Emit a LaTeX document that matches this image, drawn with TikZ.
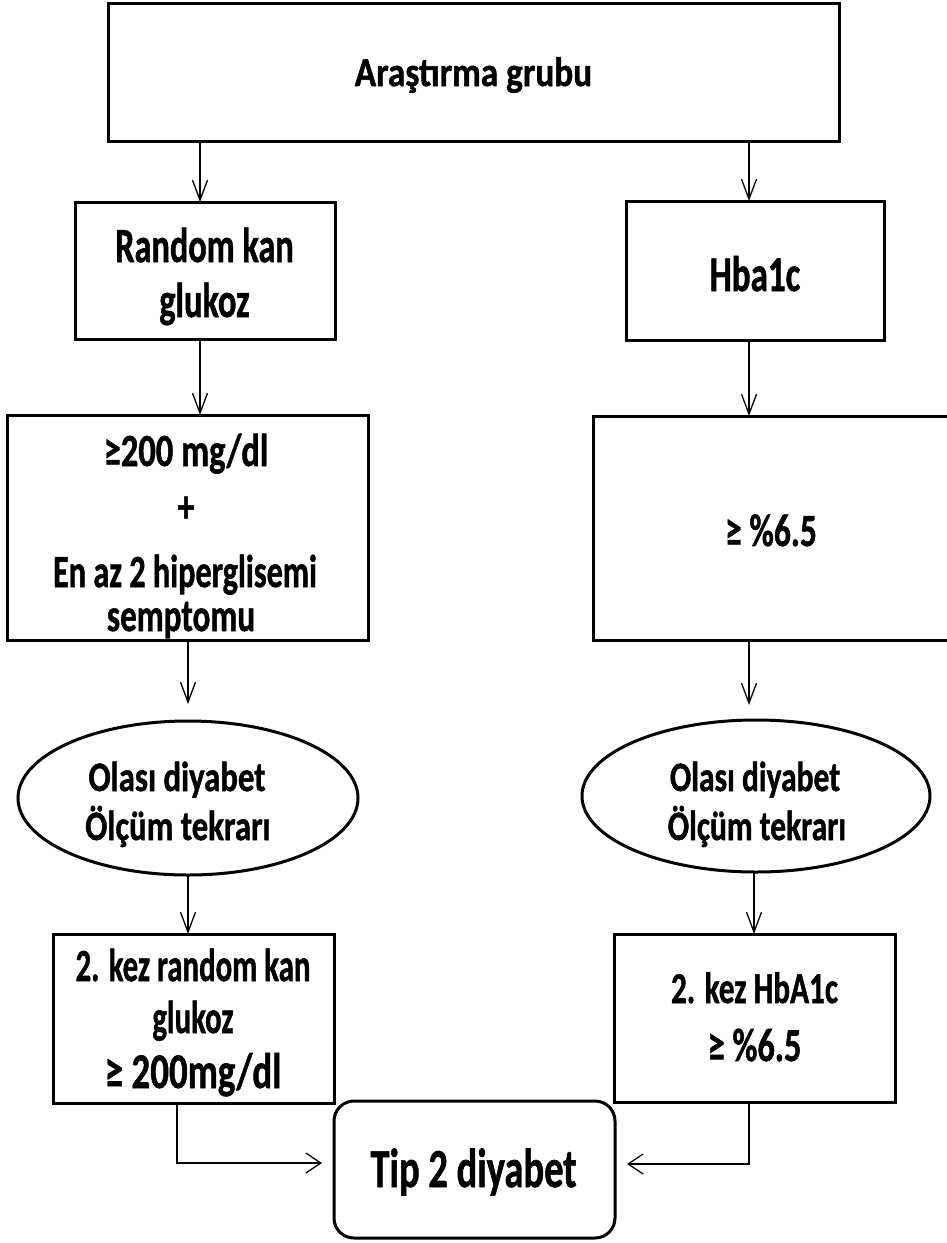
\documentclass[tikz,border=0pt]{standalone}
\usepackage{fontspec}
\setmainfont{Carlito}[BoldFeatures={FakeBold=1.2}]
\usepackage{graphicx}
\usetikzlibrary{shapes.geometric,arrows.meta}
\newcommand{\tx}[3]{\scalebox{#2}[1]{\fontsize{#1pt}{#1pt}\selectfont\bfseries #3}}
\begin{document}
\begin{tikzpicture}[x=1pt,y=-1pt,
  boxs/.style={draw, line width=3pt, rectangle, inner sep=0pt, outer sep=0pt},
  ells/.style={draw, line width=3pt, ellipse, inner sep=0pt, outer sep=0pt},
  txt/.style={inner sep=0pt, outer sep=0pt, anchor=base},
  varr/.style={line width=1.3pt, -{Straight Barb[length=20pt,width=15pt]}},
  harr/.style={line width=1.3pt, -{Straight Barb[length=15pt,width=20pt]}}]
\fill[white] (0,0) rectangle (946,1243);
\useasboundingbox (0,0) rectangle (946,1243);

% boxes
\node[boxs, minimum width=731pt, minimum height=138pt] (top) at (473.5,72) {};
\node[boxs, minimum width=260pt, minimum height=137pt] (rk) at (205,270.5) {};
\node[boxs, minimum width=258pt, minimum height=139pt] (hb) at (755,270.5) {};
\node[boxs, minimum width=361pt, minimum height=225pt] (lb) at (187.5,527.5) {};
\node[boxs, minimum width=367pt, minimum height=224pt] (rb) at (776.5,528) {};
\node[ells, minimum width=340pt, minimum height=154pt] (le) at (188,798) {};
\node[ells, minimum width=348pt, minimum height=152pt] (re) at (756,796) {};
\node[boxs, minimum width=281pt, minimum height=169pt] (l2) at (193.5,1018.5) {};
\node[boxs, minimum width=281pt, minimum height=168pt] (r2) at (754.5,1018) {};
\node[boxs, rounded corners=20pt, minimum width=281pt, minimum height=137pt] (tip) at (474.5,1169.5) {};

% texts
\node[txt] (t1) at (473.5,86) {\tx{41}{0.86}{Araştırma grubu}};
\node[txt] (t2a) at (204.5,262) {\tx{49}{0.70}{Random kan}};
\node[txt] (t2b) at (204.5,317) {\tx{49}{0.70}{glukoz}};
\node[txt] (t3) at (755,291) {\tx{50}{0.70}{Hba1c}};
\node[txt] (t4a) at (186,466) {\tx{46}{0.75}{≥200 mg/dl}};
\node[txt] (t4b) at (186,522) {\tx{46}{0.72}{+}};
\node[txt] (t4c) at (185,587) {\tx{46}{0.70}{En az 2 hiperglisemi}};
\node[txt] (t4d) at (181,631) {\tx{46}{0.72}{semptomu}};
\node[txt] (t5) at (771,546) {\tx{46}{0.73}{≥ \%6.5}};
\node[txt] (t6a) at (177,791) {\tx{42}{0.78}{Olası diyabet}};
\node[txt] (t6b) at (178,840) {\tx{42}{0.78}{Ölçüm tekrarı}};
\node[txt] (t7a) at (755,791) {\tx{42}{0.75}{Olası diyabet}};
\node[txt] (t7b) at (757,840) {\tx{42}{0.75}{Ölçüm tekrarı}};
\node[txt] (t8a) at (193,981) {\tx{46}{0.67}{2. kez random kan}};
\node[txt] (t8b) at (193,1033) {\tx{46}{0.67}{glukoz}};
\node[txt] (t8c) at (193,1088) {\tx{50}{0.74}{≥ 200mg/dl}};
\node[txt] (t9a) at (754.5,1003) {\tx{44}{0.71}{2. kez HbA1c}};
\node[txt] (t9b) at (754.5,1061) {\tx{47}{0.73}{≥ \%6.5}};
\node[txt] (t10) at (473.5,1187) {\tx{55}{0.70}{Tip 2 diyabet}};

% connectors
\draw[varr] ([xshift=-5pt]rk.north |- top.south) -- ([xshift=-5pt]rk.north);
\draw[varr] ([xshift=-6pt]hb.north |- top.south) -- ([xshift=-6pt]hb.north);
\draw[varr] ([xshift=-5pt]rk.south) -- ([xshift=-5pt]rk.south |- lb.north);
\draw[varr] ([xshift=-6pt]hb.south) -- ([xshift=-6pt]hb.south |- rb.north);
\draw[varr, shorten >=17pt] (lb.south -| le.north) -- (le.north);
\draw[varr, shorten >=15pt] (rb.south -| 749,0) -- (re.north -| 749,0);
\draw[varr] (le.south) -- (le.south |- l2.north);
\draw[varr] ([xshift=-2pt]re.south) -- ([xshift=-2pt]re.south |- r2.north);
\draw[harr, shorten >=12pt] ([xshift=-16.5pt]l2.south) |- (tip.west |- 0,1163);
\draw[harr, shorten >=12pt] ([xshift=-5.5pt]r2.south) |- (tip.east |- 0,1164);
\end{tikzpicture}
\end{document}
